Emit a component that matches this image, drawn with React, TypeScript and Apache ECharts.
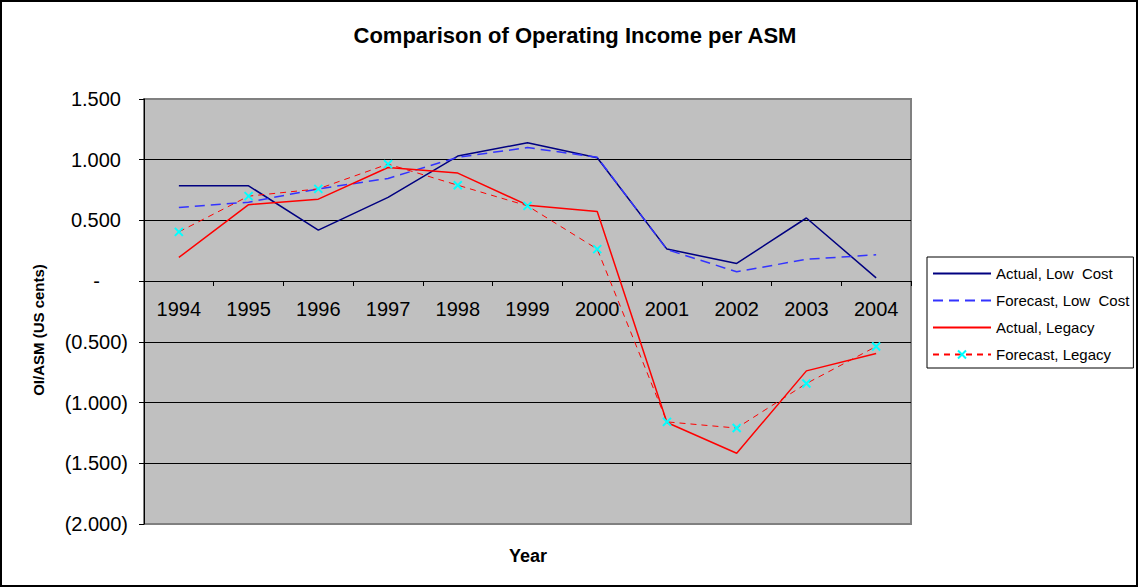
import React, { useEffect, useRef } from "react";
import * as echarts from "echarts";

const years = ["1994", "1995", "1996", "1997", "1998", "1999", "2000", "2001", "2002", "2003", "2004"];
const actualLowCost = [0.785, 0.785, 0.42, 0.69, 1.03, 1.14, 1.016, 0.264, 0.146, 0.52, 0.027];
const forecastLowCost = [0.607, 0.65, 0.76, 0.846, 1.02, 1.1, 1.02, 0.26, 0.077, 0.18, 0.217];
const actualLegacy = [0.195, 0.63, 0.675, 0.936, 0.89, 0.626, 0.574, -1.164, -1.417, -0.739, -0.596];
const forecastLegacy = [0.406, 0.7, 0.76, 0.964, 0.79, 0.62, 0.264, -1.159, -1.21, -0.843, -0.538];
const seriesNames = ["Actual, Low  Cost", "Forecast, Low  Cost", "Actual, Legacy", "Forecast, Legacy"];

const FONT = "Arial, 'Liberation Sans', sans-serif";

export default function App() {
  const ref = useRef<HTMLDivElement>(null);
  useEffect(() => {
    if (!ref.current) return;
    const chart = echarts.init(ref.current, null, { renderer: "svg" });
    const labelRich = {
      p: { fontSize: 20, fontFamily: FONT, color: "#000", padding: [0, 7, 0, 0] },
      z: { fontSize: 20, fontFamily: FONT, color: "#000", padding: [0, 28, 0, 0] },
      n: { fontSize: 20, fontFamily: FONT, color: "#000" },
    };
    const yMin = -2;
    const yMax = 1.5;
    const gridTop = 99;
    const gridHeight = 425;
    const zeroOffset = -Math.round((gridHeight * (0 - yMin)) / (yMax - yMin));
    chart.setOption({
      animation: false,
      backgroundColor: "#fff",
      textStyle: { fontFamily: FONT },
      grid: {
        left: 144,
        top: gridTop,
        width: 767,
        height: gridHeight,
        show: true,
        backgroundColor: "#C0C0C0",
        borderColor: "#808080",
        borderWidth: 2,
        containLabel: false,
      },
      legend: {
        orient: "vertical",
        left: 927,
        top: 257,
        width: 206,
        padding: [8, 4, 5, 5],
        borderColor: "#000",
        borderWidth: 1,
        backgroundColor: "#fff",
        itemWidth: 58,
        itemHeight: 10,
        itemGap: 10,
        textStyle: { fontSize: 15, fontFamily: FONT, color: "#000", lineHeight: 17 },
        data: [
          { name: seriesNames[0], itemStyle: { opacity: 0 } },
          { name: seriesNames[1], itemStyle: { opacity: 0 } },
          { name: seriesNames[2], itemStyle: { opacity: 0 } },
          { name: seriesNames[3] },
        ],
      },
      xAxis: {
        type: "category",
        data: years,
        boundaryGap: true,
        position: "bottom",
        offset: zeroOffset,
        axisLine: { onZero: false, lineStyle: { color: "#000", width: 1 } },
        axisTick: { show: true, length: 5, lineStyle: { color: "#000" } },
        axisLabel: { fontSize: 20, fontFamily: FONT, color: "#000", margin: 18, interval: 0 },
        splitLine: { show: false },
      },
      yAxis: {
        type: "value",
        min: yMin,
        max: yMax,
        interval: 0.5,
        axisLine: { show: true, lineStyle: { color: "#000", width: 1 } },
        axisTick: { show: true, length: 5, lineStyle: { color: "#000" } },
        axisLabel: {
          margin: 16,
          formatter: (v: number) => {
            if (Math.abs(v) < 1e-9) return "{z|-}";
            if (v > 0) return "{p|" + v.toFixed(3) + "}";
            return "{n|(" + (-v).toFixed(3) + ")}";
          },
          rich: labelRich,
        },
        splitLine: { show: true, showMinLine: false, showMaxLine: false, lineStyle: { color: "#000", width: 1 } },
      },
      graphic: [
        {
          type: "rect",
          shape: { x: 1, y: 1, width: 1136, height: 585 },
          style: { fill: "none", stroke: "#000", lineWidth: 2 },
          silent: true,
        },
        {
          type: "text",
          x: 575,
          y: 35,
          style: {
            text: "Comparison of Operating Income per ASM",
            fontSize: 22,
            fontWeight: "bold",
            fontFamily: FONT,
            fill: "#000",
            textAlign: "center",
            textVerticalAlign: "middle",
          },
        },
        {
          type: "text",
          x: 528,
          y: 556,
          style: {
            text: "Year",
            fontSize: 18,
            fontWeight: "bold",
            fontFamily: FONT,
            fill: "#000",
            textAlign: "center",
            textVerticalAlign: "middle",
          },
        },
        {
          type: "text",
          x: 38,
          y: 330,
          rotation: Math.PI / 2,
          style: {
            text: "OI/ASM (US cents)",
            fontSize: 15,
            fontWeight: "bold",
            fontFamily: FONT,
            fill: "#000",
            textAlign: "center",
            textVerticalAlign: "middle",
          },
        },
      ],
      series: [
        {
          name: seriesNames[0],
          type: "line",
          data: actualLowCost,
          symbol: "none",
          lineStyle: { color: "#000080", width: 1.5, type: "solid" },
          itemStyle: { color: "#000080" },
        },
        {
          name: seriesNames[1],
          type: "line",
          data: forecastLowCost,
          symbol: "none",
          lineStyle: { color: "#3333FF", width: 1.5, type: [10, 6] },
          itemStyle: { color: "#3333FF" },
        },
        {
          name: seriesNames[2],
          type: "line",
          data: actualLegacy,
          symbol: "none",
          lineStyle: { color: "#FF0000", width: 1.5, type: "solid" },
          itemStyle: { color: "#FF0000" },
        },
        {
          name: seriesNames[3],
          type: "line",
          data: forecastLegacy,
          symbol: "path://M0,0L10,10M10,0L0,10",
          symbolSize: 8,
          showSymbol: true,
          lineStyle: { color: "#FF0000", width: 1, type: [6, 5] },
          itemStyle: { color: "#00FFFF", borderColor: "#00FFFF", borderWidth: 2 },
          z: 3,
        },
      ],
    });
    return () => chart.dispose();
  }, []);
  return (
    <div
      ref={ref}
      style={{ position: "fixed", left: 0, top: 0, width: 1139, height: 588 }}
    />
  );
}
